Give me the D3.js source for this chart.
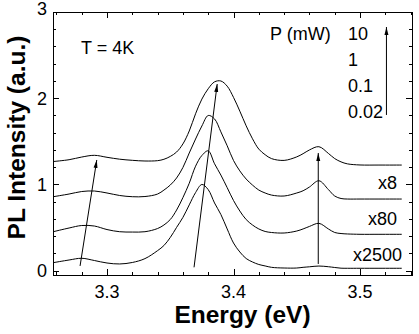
<!DOCTYPE html>
<html>
<head>
<meta charset="utf-8">
<script src="https://cdn.jsdelivr.net/npm/d3@7"></script>
<style>
  body { margin: 0; background: white; }
  text { font-family: "Liberation Sans", Arial, sans-serif; fill: black; }
</style>
</head>
<body>
<div id="chart"></div>
<script>
let w = 419;
let h = 334;

// shared energy grid (eV)
let energy = [3.2575, 3.27, 3.28, 3.29, 3.30, 3.31, 3.32, 3.33, 3.34, 3.345, 3.35, 3.355, 3.36, 3.365, 3.37, 3.375, 3.38, 3.385, 3.39, 3.395, 3.40, 3.405, 3.41, 3.415, 3.42, 3.425, 3.43, 3.44, 3.45, 3.455, 3.46, 3.4675, 3.475, 3.48, 3.485, 3.49, 3.50, 3.515, 3.533];

// PL intensity (a.u.), offset spectra
let pl10mW = [1.266, 1.287, 1.318, 1.338, 1.315, 1.293, 1.280, 1.272, 1.276, 1.292, 1.325, 1.376, 1.47, 1.62, 1.82, 1.99, 2.11, 2.19, 2.20, 2.14, 2.01, 1.85, 1.68, 1.53, 1.41, 1.345, 1.30, 1.279, 1.32, 1.357, 1.40, 1.438, 1.36, 1.30, 1.262, 1.239, 1.226, 1.225, 1.225];
let pl1mW = [0.858, 0.889, 0.918, 0.924, 0.901, 0.872, 0.858, 0.860, 0.889, 0.935, 0.993, 1.075, 1.197, 1.365, 1.527, 1.678, 1.80, 1.76, 1.61, 1.449, 1.278, 1.157, 1.063, 0.993, 0.935, 0.901, 0.877, 0.866, 0.901, 0.927, 0.97, 1.043, 0.941, 0.866, 0.837, 0.831, 0.831, 0.831, 0.831];
let pl01mW = [0.452, 0.495, 0.524, 0.518, 0.477, 0.452, 0.448, 0.452, 0.489, 0.530, 0.593, 0.703, 0.848, 1.014, 1.212, 1.336, 1.39, 1.24, 1.109, 0.963, 0.814, 0.692, 0.593, 0.530, 0.484, 0.455, 0.443, 0.437, 0.460, 0.484, 0.513, 0.549, 0.484, 0.443, 0.431, 0.426, 0.422, 0.422, 0.422];
let pl002mW = [0.093, 0.124, 0.144, 0.118, 0.089, 0.078, 0.095, 0.140, 0.233, 0.292, 0.385, 0.502, 0.618, 0.763, 0.906, 1.00, 0.94, 0.785, 0.652, 0.484, 0.321, 0.217, 0.141, 0.101, 0.072, 0.055, 0.039, 0.031, 0.031, 0.039, 0.045, 0.054, 0.046, 0.037, 0.029, 0.028, 0.028, 0.028, 0.028];

let spectra = [pl10mW, pl1mW, pl01mW, pl002mW];
let scaleLabels = ["x8", "x80", "x2500"];
let powers = ["10", "1", "0.1", "0.02"];

// arrows [E, I] from -> to
let arrows = [
    [[3.2787, 0.055], [3.2919, 1.284]],
    [[3.3688, 0.039], [3.3871, 2.165]],
    [[3.467, 0.078], [3.467, 1.365]],
    [[3.5209, 1.806], [3.5209, 2.826]]
];

let xTicks = [3.3, 3.4, 3.5];
let yTicks = [0, 1, 2, 3];

let padL = 53, padR = 412, padT = 12, padB = 275;

let svg = d3.select("#chart").append("svg")
    .attr("width", w)
    .attr("height", h);

let xScale = d3.scaleLinear().domain([3.2573, 3.5411]).range([padL, padR]);
let yScale = d3.scaleLinear().domain([-0.05, 3]).range([padB, padT]);

// ticks, inward on all four sides
let xMinor = d3.range(3.26, 3.541, 0.02);
let yMinor = d3.range(0, 3.01, 0.2);
function isMajor(v, list){
    return list.some(t => Math.abs(t - v) < 1e-6);
}
let tg = svg.append("g").attr("stroke", "black").attr("stroke-width", 1);
xMinor.forEach(function(v){
    let len = isMajor(v, xTicks) ? 6 : 3;
    let px = Math.round(xScale(v)) + 0.5;
    tg.append("line").attr("x1", px).attr("x2", px).attr("y1", padB).attr("y2", padB - len);
    tg.append("line").attr("x1", px).attr("x2", px).attr("y1", padT).attr("y2", padT + len);
});
yMinor.forEach(function(v){
    let len = isMajor(v, yTicks) ? 6 : 3;
    let py = Math.round(yScale(v)) + 0.5;
    tg.append("line").attr("x1", padL).attr("x2", padL + len).attr("y1", py).attr("y2", py);
    tg.append("line").attr("x1", padR).attr("x2", padR - len).attr("y1", py).attr("y2", py);
});

svg.append("rect")
    .attr("x", padL + 0.5).attr("y", padT + 0.5)
    .attr("width", padR - padL).attr("height", padB - padT)
    .attr("fill", "none").attr("stroke", "black");

// tick labels
svg.selectAll(".xlab").data(xTicks).enter()
    .append("text")
    .attr("x", d => xScale(d))
    .attr("y", 298)
    .attr("text-anchor", "middle")
    .attr("font-size", 18)
    .text(d => d3.format(".1f")(d));
svg.selectAll(".ylab").data(yTicks).enter()
    .append("text")
    .attr("x", 47)
    .attr("y", function(d){
        return d == 3 ? yScale(d) + 2.5 : yScale(d) + 6.5;
    })
    .attr("text-anchor", "end")
    .attr("font-size", 18)
    .text(d => d);

// axis titles
svg.append("text")
    .attr("x", 242.5).attr("y", 323)
    .attr("text-anchor", "middle")
    .attr("font-size", 24.5).attr("font-weight", "bold")
    .text("Energy (eV)");
svg.append("text")
    .attr("transform", "translate(25,137.5) rotate(-90)")
    .attr("text-anchor", "middle")
    .attr("font-size", 24.5).attr("font-weight", "bold")
    .text("PL Intensity (a.u.)");

// spectra
let line = d3.line()
    .x((d, i) => xScale(energy[i]))
    .y(d => yScale(d))
    .curve(d3.curveCatmullRom.alpha(0.5));
svg.append("g").selectAll("path").data(spectra).enter()
    .append("path")
    .attr("d", line)
    .attr("fill", "none")
    .attr("stroke", "black")
    .attr("stroke-width", 1);

// arrows
svg.append("defs").append("marker")
    .attr("id", "head")
    .attr("markerUnits", "userSpaceOnUse")
    .attr("viewBox", "0 -3 8 6")
    .attr("refX", 8).attr("refY", 0)
    .attr("markerWidth", 8).attr("markerHeight", 6)
    .attr("orient", "auto")
    .append("path")
    .attr("d", "M0,-2L8,0L0,2Z")
    .attr("fill", "black");
svg.append("g").selectAll("line").data(arrows).enter()
    .append("line")
    .attr("x1", d => xScale(d[0][0]))
    .attr("y1", d => yScale(d[0][1]))
    .attr("x2", d => xScale(d[1][0]))
    .attr("y2", d => yScale(d[1][1]))
    .attr("stroke", "black")
    .attr("stroke-width", 1)
    .attr("marker-end", "url(#head)");

// scale factor labels
let scaleX = [378, 368, 353];
let scaleY = [189, 225, 261];
svg.selectAll(".sc").data(scaleLabels).enter()
    .append("text")
    .attr("x", (d, i) => scaleX[i])
    .attr("y", (d, i) => scaleY[i])
    .attr("font-size", 18)
    .text(d => d);

// legend
svg.append("text").attr("x", 81).attr("y", 54).attr("font-size", 18).text("T = 4K");
svg.append("text").attr("x", 270).attr("y", 39.5).attr("font-size", 18).text("P (mW)");
svg.selectAll(".pw").data(powers).enter()
    .append("text")
    .attr("x", 348)
    .attr("y", (d, i) => 39.5 + i * 26)
    .attr("font-size", 18)
    .text(d => d);
</script>
</body>
</html>
